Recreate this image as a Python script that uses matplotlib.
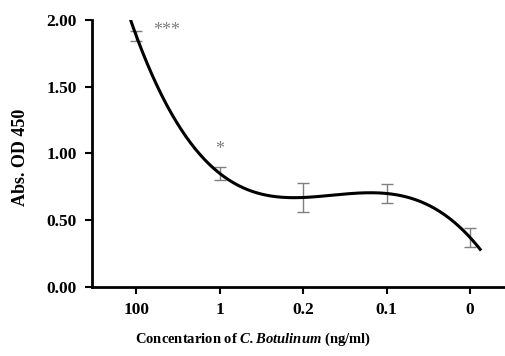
import numpy as np
import matplotlib.pyplot as plt

plt.rcParams['font.family'] = ['Liberation Serif', 'DejaVu Serif']
plt.rcParams['mathtext.fontset'] = 'custom'
plt.rcParams['mathtext.rm'] = 'Liberation Serif:bold'
plt.rcParams['mathtext.bfit'] = 'Liberation Serif:bold:italic'
plt.rcParams['mathtext.it'] = 'Liberation Serif:bold:italic'

# data
concentrations = ['100', '1', '0.2', '0.1', '0']
absorbance = [1.88, 0.85, 0.67, 0.70, 0.37]
errors = [0.04, 0.05, 0.105, 0.07, 0.07]
stars = ['***', '*', '', '', '']

x = np.arange(1, len(concentrations) + 1)

fig = plt.figure(figsize=(5.06, 3.56), dpi=100)
ax = fig.add_axes([0.182, 0.194, 0.818, 0.75])

# polynomial trendline through the means
coef = np.polyfit(x, absorbance, 4)
xs = np.linspace(0.85, 5.12, 300)
ax.plot(xs, np.polyval(coef, xs), color='black', lw=2.2, zorder=3)

ax.errorbar(x, absorbance, yerr=errors, fmt='none', ecolor='#7f7f7f',
            elinewidth=1.0, capsize=4, capthick=1.0, zorder=2)

ax.text(1.36, 1.92, stars[0], color='#7f7f7f', fontsize=13, ha='center', va='center')
ax.text(2.0, 1.03, stars[1], color='#7f7f7f', fontsize=13, ha='center', va='center')

ax.set_xlim(0.47, 5.43)
ax.set_ylim(0, 2.0)
ax.set_xticks(x)
ax.set_xticklabels(concentrations, fontweight='bold', fontsize=12.5)
ax.set_yticks([0, 0.5, 1.0, 1.5, 2.0])
ax.set_yticklabels(['%.2f' % v for v in [0, 0.5, 1.0, 1.5, 2.0]], fontweight='bold', fontsize=12.5)
ax.tick_params(axis='x', direction='out', length=5, width=1.5, pad=6)
ax.tick_params(axis='y', direction='out', length=5, width=1.5, pad=6)

for side in ['top', 'right']:
    ax.spines[side].set_visible(False)
for side in ['left', 'bottom']:
    ax.spines[side].set_linewidth(2.0)

ax.set_ylabel('Abs. OD 450', fontweight='bold', fontsize=13)
ax.yaxis.set_label_coords(-(92 - 29) / 414.0, (287 - 157) / 267.0)
ax.set_xlabel(r'Concentarion of $\mathbfit{C.Botulinum}$ (ng/ml)',
              fontweight='bold', fontsize=10.5)
ax.xaxis.set_label_coords((253 - 92) / 414.0, -0.165)

fig.savefig('out.png', dpi=100)
